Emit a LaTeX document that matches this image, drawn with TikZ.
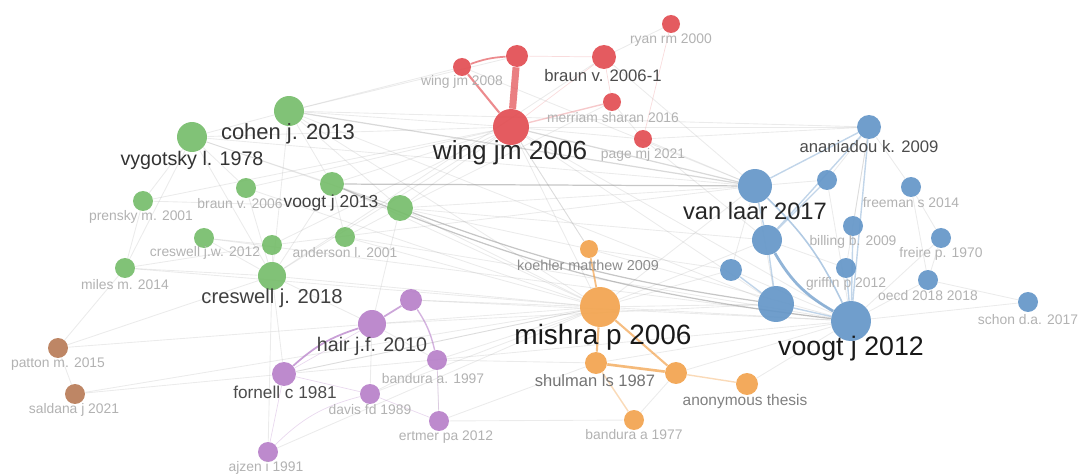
\documentclass[tikz,border=0pt]{standalone}
\usepackage{fontspec}
\setmainfont{Liberation Sans}
\usetikzlibrary{backgrounds}

\definecolor{vgreen}{RGB}{118,189,107}
\definecolor{vred}{RGB}{226,77,82}
\definecolor{vblue}{RGB}{100,150,200}
\definecolor{vorange}{RGB}{242,163,78}
\definecolor{vpurple}{RGB}{183,128,201}
\definecolor{vbrown}{RGB}{184,124,88}

\tikzset{
  dot/.style={circle, inner sep=0pt, minimum size=#1*0.4mm, fill opacity=0.92},
  lab/.style 2 args={inner sep=0pt, text=black!#1, font=\fontsize{#2}{#2}\selectfont},
  small/.style={lab={30}{7.9pt}},
  link/.style={gray!70, opacity=0.22, line width=0.5pt},
  strong/.style={gray, opacity=0.45, line width=0.7pt}
}

\begin{document}
\begin{tikzpicture}[x=0.02cm, y=-0.02cm]
    \useasboundingbox (0,0) rectangle (1080,476);

    % green cluster
    \node[dot=15, fill=vgreen] (cohen13) at (289,111) {};
    \node[dot=15, fill=vgreen] (vygot78) at (192,137) {};
    \node[dot=10, fill=vgreen] (braun06) at (246,188) {};
    \node[dot=12, fill=vgreen] (voogt13) at (332,184) {};
    \node[dot=13, fill=vgreen] (g1) at (400,208) {};
    \node[dot=10, fill=vgreen] (prensky01) at (143,201) {};
    \node[dot=10, fill=vgreen] (cresw12) at (204,238) {};
    \node[dot=10, fill=vgreen] (g2) at (272,245) {};
    \node[dot=10, fill=vgreen] (anders01) at (345,237) {};
    \node[dot=10, fill=vgreen] (miles14) at (125,268) {};
    \node[dot=14, fill=vgreen] (cresw18) at (272,276) {};

    % red cluster
    \node[dot=9, fill=vred] (wing08) at (462,67) {};
    \node[dot=11, fill=vred] (r1) at (517,56) {};
    \node[dot=12, fill=vred] (braun061) at (604,57) {};
    \node[dot=9, fill=vred] (ryan00) at (671,24) {};
    \node[dot=9, fill=vred] (merriam16) at (612,102) {};
    \node[dot=9, fill=vred] (page21) at (643,139) {};
    \node[dot=18, fill=vred] (wing06) at (511,127) {};

    % blue cluster
    \node[dot=12, fill=vblue] (anan09) at (869,127) {};
    \node[dot=17, fill=vblue] (vlaar17) at (755,186) {};
    \node[dot=10, fill=vblue] (b1) at (827,180) {};
    \node[dot=10, fill=vblue] (freeman14) at (911,187) {};
    \node[dot=10, fill=vblue] (billing09) at (853,226) {};
    \node[dot=15, fill=vblue] (b2) at (767,240) {};
    \node[dot=10, fill=vblue] (freire70) at (941,238) {};
    \node[dot=11, fill=vblue] (b3) at (731,270) {};
    \node[dot=10, fill=vblue] (griffin12) at (846,268) {};
    \node[dot=10, fill=vblue] (oecd18) at (928,280) {};
    \node[dot=18, fill=vblue] (b4) at (776,304) {};
    \node[dot=20, fill=vblue] (voogt12) at (851,321) {};
    \node[dot=10, fill=vblue] (schon17) at (1028,302) {};

    % orange cluster
    \node[dot=9, fill=vorange] (koehler09) at (589,249) {};
    \node[dot=20, fill=vorange] (mishra06) at (600,307) {};
    \node[dot=11, fill=vorange] (shulman87) at (596,363) {};
    \node[dot=11, fill=vorange] (o1) at (676,373) {};
    \node[dot=11, fill=vorange] (anon) at (747,384) {};
    \node[dot=10, fill=vorange] (bandura77) at (634,420) {};

    % purple cluster
    \node[dot=11, fill=vpurple] (p1) at (411,300) {};
    \node[dot=14, fill=vpurple] (hair10) at (372,324) {};
    \node[dot=10, fill=vpurple] (bandura97) at (437,360) {};
    \node[dot=12, fill=vpurple] (fornell81) at (284,374) {};
    \node[dot=10, fill=vpurple] (davis89) at (370,394) {};
    \node[dot=10, fill=vpurple] (ertmer12) at (439,421) {};
    \node[dot=10, fill=vpurple] (ajzen91) at (268,452) {};

    % brown cluster
    \node[dot=10, fill=vbrown] (patton15) at (58,348) {};
    \node[dot=10, fill=vbrown] (saldana21) at (75,394) {};

    % links
    \begin{scope}[on background layer]
    \foreach \a/\b in {cohen13/vygot78, cohen13/voogt13, cohen13/wing06, cohen13/g1,
        cohen13/cresw18, cohen13/anan09, vygot78/prensky01, vygot78/braun06,
        vygot78/cresw18, vygot78/miles14, vygot78/wing06, vygot78/g1,
        voogt13/g1, voogt13/wing06, voogt13/mishra06, voogt13/cresw18, voogt13/anders01,
        g1/wing06, g1/mishra06, g1/vlaar17, g1/b2, g1/hair10, g1/koehler09,
        prensky01/miles14, prensky01/wing06, cresw12/cresw18, cresw12/g2, g2/cresw18,
        g2/wing06, anders01/mishra06, anders01/g1, miles14/cresw18, miles14/g2,
        cresw18/fornell81, cresw18/hair10, cresw18/mishra06, cresw18/ajzen91, cresw18/wing06,
        braun06/wing06, braun06/cresw18, wing06/anan09, wing06/voogt12, wing06/mishra06,
        wing06/page21, wing06/b4, wing06/koehler09, wing08/cohen13, braun061/cresw18,
        braun061/ryan00, page21/anan09, page21/vlaar17, merriam16/page21,
        vlaar17/b1, vlaar17/b3, vlaar17/b4, vlaar17/mishra06, anan09/b1, anan09/freeman14,
        anan09/billing09, anan09/griffin12, b1/voogt12, freeman14/freire70,
        freeman14/oecd18, b2/griffin12, b3/voogt12, freire70/oecd18, freire70/voogt12,
        oecd18/voogt12, oecd18/schon17, schon17/voogt12, mishra06/voogt12, mishra06/b4,
        mishra06/b3, mishra06/b2, koehler09/b3, koehler09/voogt12, mishra06/hair10,
        mishra06/p1, mishra06/bandura97, mishra06/fornell81, shulman87/ertmer12,
        shulman87/bandura97, shulman87/voogt12, o1/voogt12, anon/voogt12, bandura77/ertmer12,
        bandura77/o1, hair10/bandura97, hair10/davis89, davis89/bandura97, ertmer12/bandura97,
        patton15/saldana21, patton15/cresw18, patton15/hair10, saldana21/fornell81,
        saldana21/mishra06, patton15/miles14, fornell81/mishra06, ajzen91/mishra06,
        vygot78/voogt13, vygot78/vlaar17, prensky01/g1, cresw12/voogt12, miles14/mishra06,
        braun06/mishra06, anders01/voogt12, g2/vlaar17, cohen13/mishra06, cohen13/b4,
        wing08/vlaar17, r1/cohen13, braun061/vlaar17, merriam16/g1, page21/b2,
        koehler09/wing06, fornell81/voogt12, hair10/b4, p1/voogt12, davis89/mishra06}
        \draw[link] (\a) -- (\b);

    % heavier grey links
    \draw[strong] (voogt13) to[bend right=8] (voogt12);
    \draw[strong] (g1) to[bend right=6] (b4);
    \draw[strong] (voogt13) -- (vlaar17);
    \draw[strong, opacity=0.3] (cohen13) -- (vlaar17);
    \draw[strong, opacity=0.3] (wing06) -- (vlaar17);

    % red links
    \draw[vred, opacity=0.65, line width=1pt] (wing08) to[bend left=8] (r1);
    \draw[vred, opacity=0.65, line width=1.2pt] (wing08) -- (wing06);
    \draw[vred, opacity=0.72, line width=4pt] (r1) -- (wing06);
    \draw[vred, opacity=0.3, line width=0.8pt] (wing06) -- (merriam16);
    \draw[vred, opacity=0.2] (r1) -- (braun061) (braun061) -- (wing06)
        (ryan00) -- (page21) (braun061) -- (merriam16);

    % blue links
    \draw[vblue, opacity=0.7, line width=1.6pt] (b2) to[bend right=15] (voogt12);
    \draw[vblue, opacity=0.5, line width=0.9pt] (vlaar17) to[bend left=10] (voogt12);
    \draw[vblue, opacity=0.4, line width=0.8pt] (b2) -- (b4) (b4) -- (voogt12) (b3) -- (b4)
        (anan09) -- (voogt12) (anan09) -- (b2) (billing09) -- (voogt12)
        (griffin12) -- (voogt12) (b1) -- (b2) (vlaar17) -- (b2) (vlaar17) -- (anan09);

    % orange links
    \draw[vorange, opacity=0.7, line width=1pt] (koehler09) -- (mishra06);
    \draw[vorange, opacity=0.7, line width=1.2pt] (mishra06) -- (shulman87) (mishra06) -- (o1);
    \draw[vorange, opacity=0.75, line width=1.5pt] (shulman87) -- (o1);
    \draw[vorange, opacity=0.4, line width=0.8pt] (o1) -- (anon) (shulman87) -- (bandura77);

    % purple links
    \draw[vpurple, opacity=0.75, line width=1pt] (fornell81) to[bend left=12] (hair10);
    \draw[vpurple, opacity=0.7, line width=1pt] (hair10) -- (p1);
    \draw[vpurple, opacity=0.6, line width=0.8pt] (p1) to[bend left=10] (bandura97);
    \draw[vpurple, opacity=0.3] (fornell81) -- (ajzen91) (fornell81) -- (davis89)
        (davis89) -- (ertmer12) (bandura97) -- (ertmer12) (fornell81) -- (hair10);
    \draw[vpurple, opacity=0.3] (ajzen91) to[bend left=15] (davis89);
    \end{scope}

    % labels
    \node[lab={80}{12.5pt}] (l-cohen13) at (288,134) {cohen j. 2013};
    \node[lab={80}{11.2pt}] (l-vygot78) at (192,160) {vygotsky l. 1978};
    \node[small] (l-braun06) at (240,204) {braun v. 2006};
    \node[lab={75}{9.9pt}] (l-voogt13) at (331,203) {voogt j 2013};
    \node[small] (l-prensky01) at (141,217) {prensky m. 2001};
    \node[small] (l-cresw12) at (205,253) {creswell j.w. 2012};
    \node[small] (l-anders01) at (345,253) {anderson l. 2001};
    \node[small] (l-miles14) at (125,285) {miles m. 2014};
    \node[lab={75}{11.5pt}] (l-cresw18) at (272,298) {creswell j. 2018};

    \node[small] (l-wing08) at (462,82) {wing jm 2008};
    \node[lab={70}{9.5pt}] (l-braun061) at (603,76) {braun v. 2006-1};
    \node[small] (l-ryan00) at (671,40) {ryan rm 2000};
    \node[small] (l-merriam16) at (613,118) {merriam sharan 2016};
    \node[small] (l-page21) at (643,155) {page mj 2021};
    \node[lab={85}{14.9pt}] (l-wing06) at (510,153) {wing jm 2006};

    \node[lab={70}{9.5pt}] (l-anan09) at (869,147) {ananiadou k. 2009};
    \node[lab={85}{13.5pt}] (l-vlaar17) at (755,211) {van laar 2017};
    \node[small] (l-freeman14) at (911,203) {freeman s 2014};
    \node[small] (l-billing09) at (853,242) {billing b. 2009};
    \node[small] (l-freire70) at (941,254) {freire p. 1970};
    \node[small] (l-griffin12) at (846,284) {griffin p 2012};
    \node[small] (l-oecd18) at (928,296) {oecd 2018 2018};
    \node[lab={90}{15.2pt}] (l-voogt12) at (851,349) {voogt j 2012};
    \node[small] (l-schon17) at (1028,320) {schon d.a. 2017};

    \node[lab={45}{8.2pt}] (l-koehler09) at (588,265) {koehler matthew 2009};
    \node[lab={90}{15.9pt}] (l-mishra06) at (603,337) {mishra p 2006};
    \node[lab={55}{9.4pt}] (l-shulman87) at (595,381) {shulman ls 1987};
    \node[lab={50}{8.8pt}] (l-anon) at (745,402) {anonymous thesis};
    \node[small] (l-bandura77) at (634,435) {bandura a 1977};

    \node[lab={75}{11.2pt}] (l-hair10) at (372,346) {hair j.f. 2010};
    \node[small] (l-bandura97) at (433,379) {bandura a. 1997};
    \node[lab={70}{9.8pt}] (l-fornell81) at (285,392) {fornell c 1981};
    \node[small] (l-davis89) at (370,410) {davis fd 1989};
    \node[small] (l-ertmer12) at (446,437) {ertmer pa 2012};
    \node[small] (l-ajzen91) at (266,468) {ajzen i 1991};

    \node[small] (l-patton15) at (58,364) {patton m. 2015};
    \node[small] (l-saldana21) at (74,410) {saldana j 2021};

\end{tikzpicture}
\end{document}
